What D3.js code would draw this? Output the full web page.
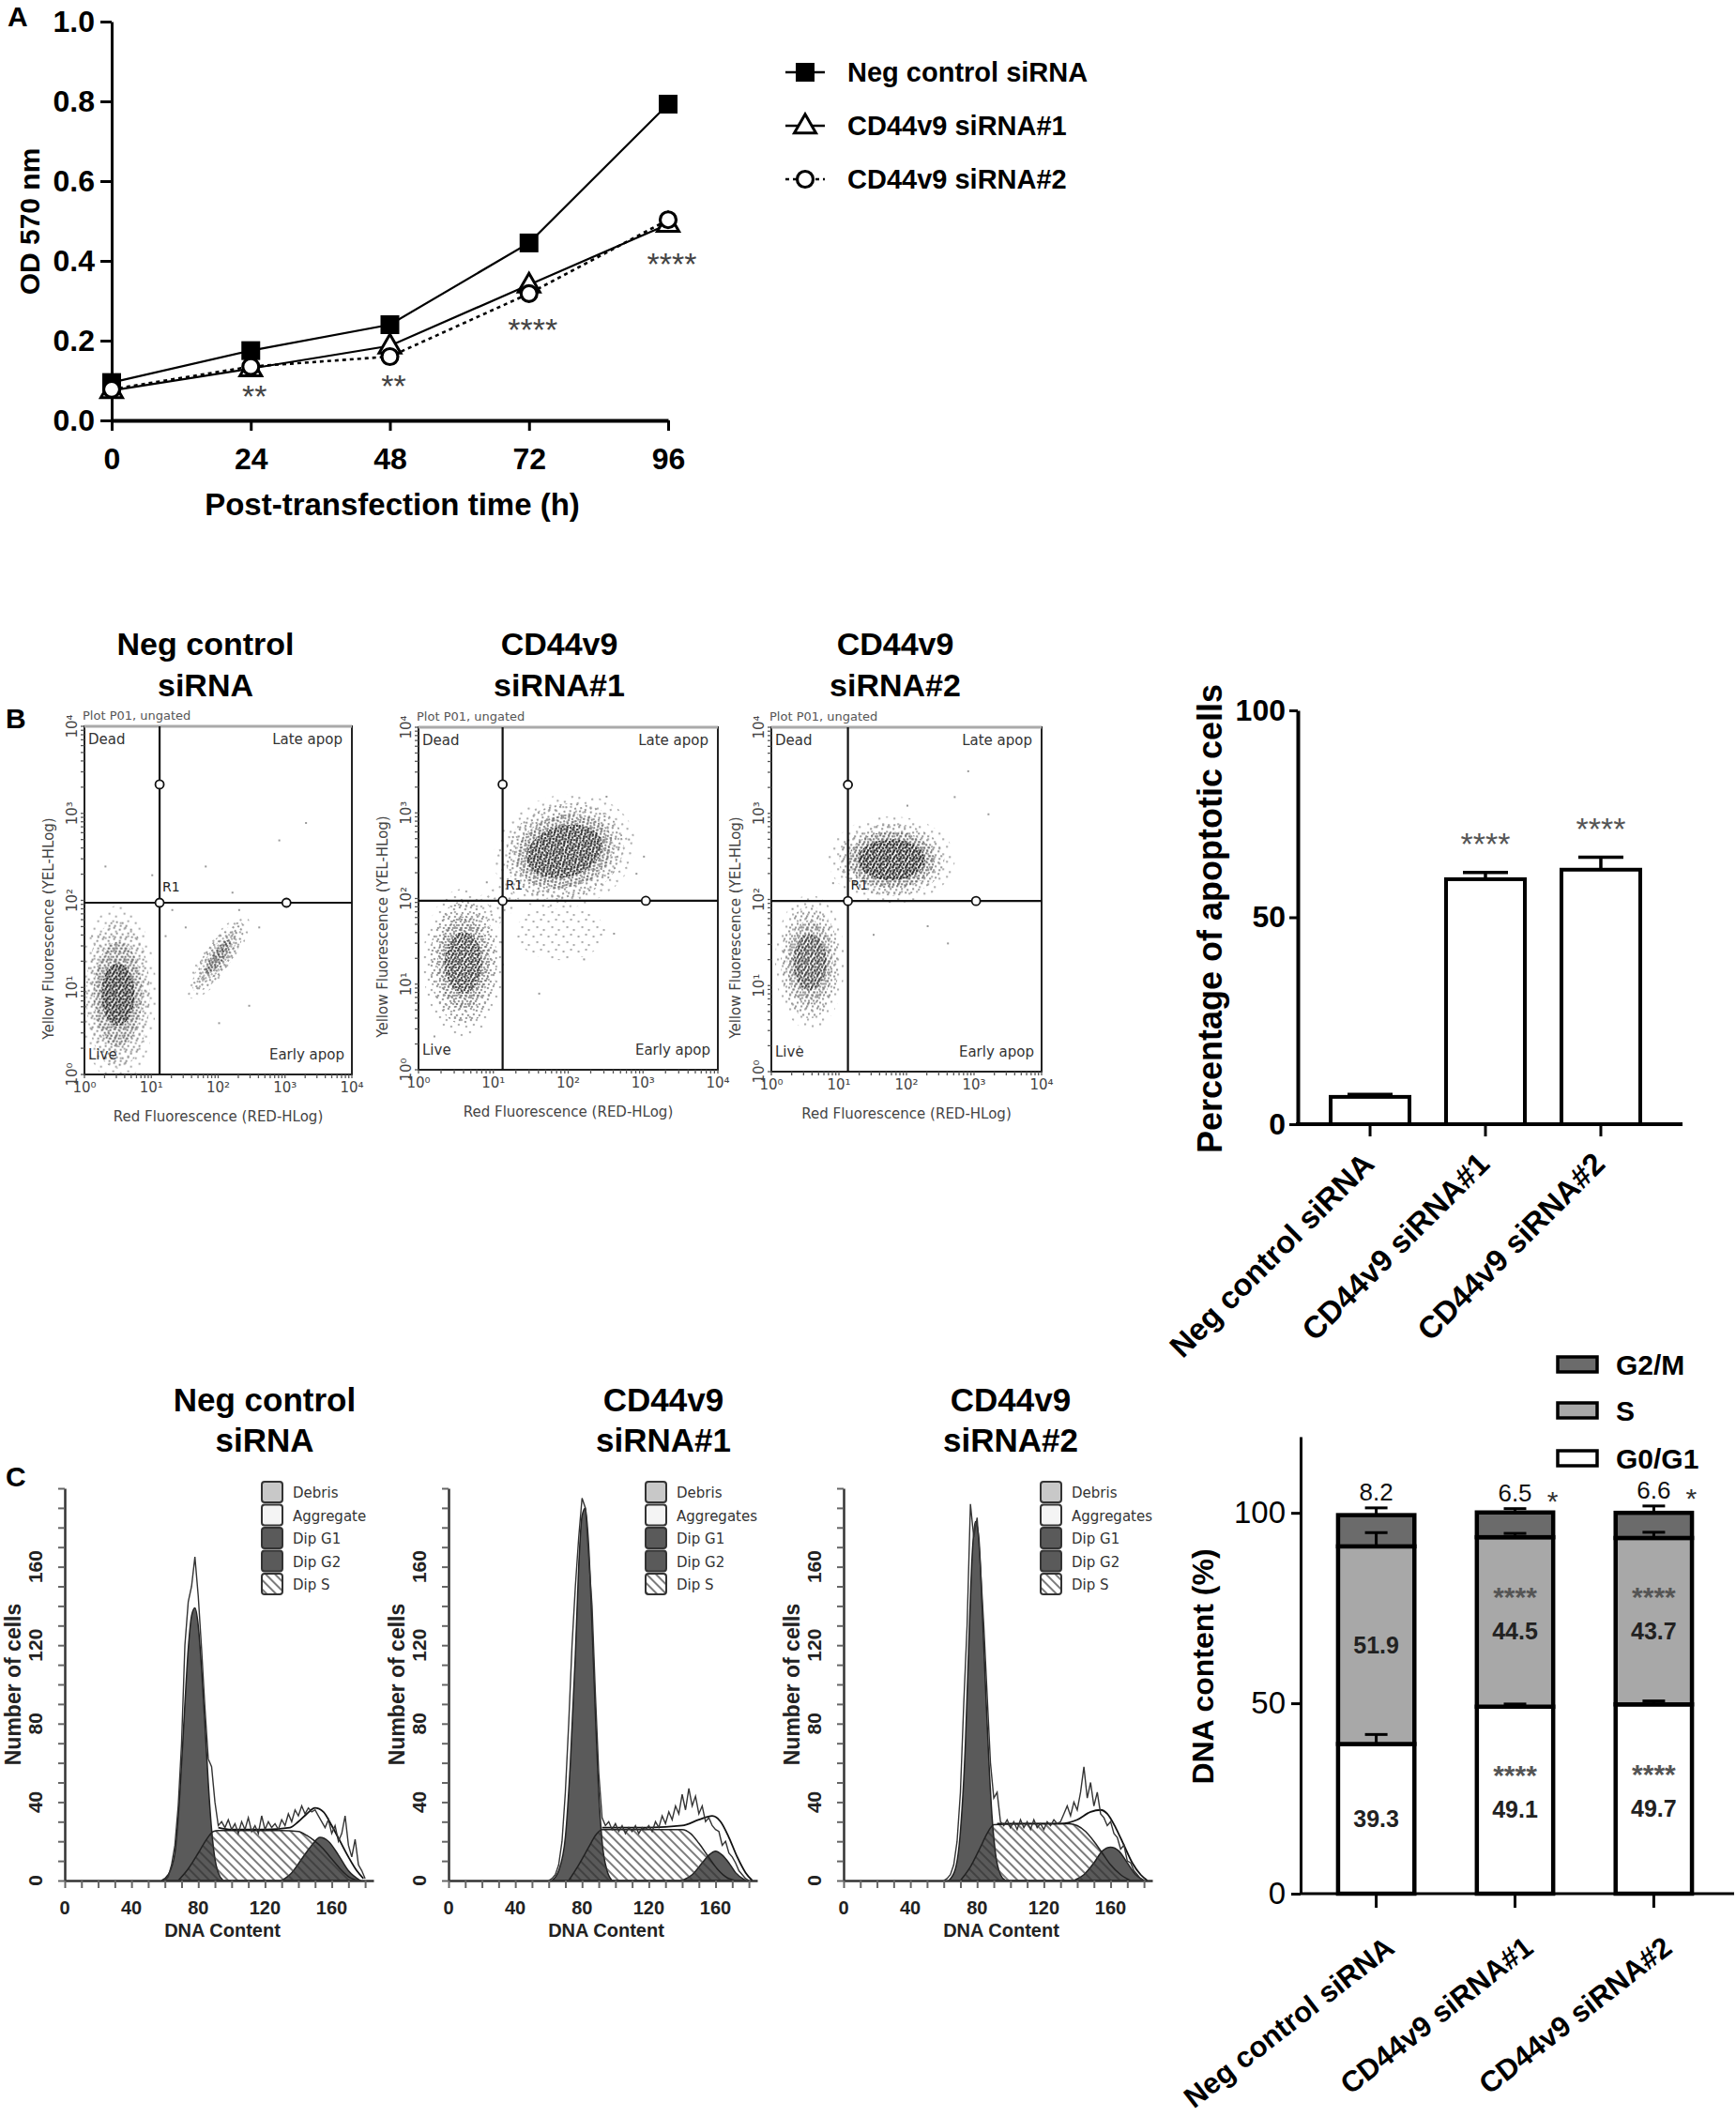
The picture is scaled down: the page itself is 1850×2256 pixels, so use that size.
<!DOCTYPE html>
<html>
<head>
<meta charset="utf-8">
<script src="https://cdn.jsdelivr.net/npm/d3@7"></script>
<style>
  body { margin: 0; background: #fff; }
</style>
</head>
<body>
<svg id="fig" width="1850" height="2256"></svg>
<script>
// ---------- data ----------
const groups = ['Neg control siRNA', 'CD44v9 siRNA#1', 'CD44v9 siRNA#2'];

// A: OD 570 growth curves
const hours = [0, 24, 48, 72, 96];
const odNeg = [0.095, 0.175, 0.24, 0.445, 0.793];
const odSi1 = [0.075, 0.13, 0.187, 0.34, 0.492];
const odSi2 = [0.078, 0.135, 0.16, 0.318, 0.503];
const odStars = ['', '**', '**', '****', '****'];
const odStarAt = [0, 0.073, 0.1, 0.24, 0.405];
const odTicks = [0, 0.2, 0.4, 0.6, 0.8, 1.0];

// B: annexin / PI flow plots (log10 units)
const flowTitles = [['Neg control', 'siRNA'], ['CD44v9', 'siRNA#1'], ['CD44v9', 'siRNA#2']];
const flowGate = [[13.3, 94], [13.3, 94], [13.6, 96]];
const flowHandles = [[[13.3, 2150], [1050, 94]], [[13.3, 2150], [1090, 94]], [[13.6, 2150], [1070, 96]]];
// cloud: [log red, log yellow, outer spread red, outer spread yellow, core spread red, core spread yellow, tilt, core darkness]
const flowClouds = [
  [[0.5, 0.92, 0.48, 0.85, 0.25, 0.36, 0, 1.0], [2.0, 1.35, 0.62, 0.15, 0.3, 0.07, -55, 0.6]],
  [[1.95, 2.55, 0.8, 0.55, 0.52, 0.3, -15, 0.9], [0.6, 1.25, 0.45, 0.72, 0.25, 0.36, 0, 0.8],
   [1.9, 1.6, 0.6, 0.32, 0, 0, 0, 0], [1.0, 1.9, 0.35, 0.2, 0, 0, -40, 0]],
  [[1.78, 2.46, 0.78, 0.42, 0.5, 0.24, 0, 1.0], [0.57, 1.27, 0.43, 0.65, 0.25, 0.33, 0, 0.75]]
];
const flowDots = [
  [[1.3, 1.9], [1.5, 1.7], [1.2, 1.6], [2.3, 1.9], [2.6, 1.7], [2.2, 2.1], [1.8, 2.4], [2.9, 2.7], [3.3, 2.9], [1.0, 2.3], [2.45, 0.8], [2.0, 0.6], [1.7, 1.0], [0.3, 2.4], [0.1, 1.6]],
  [[2.8, 2.7], [2.9, 2.3], [2.5, 3.2], [1.1, 1.5], [1.6, 0.9], [2.2, 1.3], [2.6, 1.6], [0.2, 0.4], [0.9, 2.2], [3.0, 2.5], [1.4, 2.9]],
  [[2.9, 3.5], [2.7, 3.2], [3.2, 3.0], [2.6, 1.5], [2.3, 1.7], [1.5, 1.6], [0.4, 0.3], [0.9, 2.2], [2.0, 3.1], [1.1, 2.0], [0.3, 1.9]]
];
const flowDecades = [1, 10, 100, 1000, 10000];
const flowDecadeLabels = ['10⁰', '10¹', '10²', '10³', '10⁴'];
const quadrantNames = ['Dead', 'Late apop', 'Live', 'Early apop'];

// B: percentage of apoptotic cells
const apoptotic = [6.6, 59.2, 61.5];
const apoptoticErr = [0.6, 1.6, 3.0];
const apoptoticStars = ['', '****', '****'];
const apoptoticTicks = [0, 50, 100];

// C: DNA content histograms (bins of 2)
const histBins = d3.range(60, 181, 2);
const histTotal = [
  [0, 2, 8, 18, 38, 70, 120, 142, 150, 165, 145, 118, 88, 62, 58, 40, 28, 30, 27, 31, 26, 29, 24, 30, 26, 32, 25, 28, 24, 33, 26, 30, 27, 29, 26, 31, 28, 34, 30, 36, 33, 38, 34, 37, 35, 36, 33, 30, 27, 31, 24, 28, 20, 24, 33, 18, 12, 21, 8, 5, 1],
  [0, 1, 3, 8, 20, 45, 80, 120, 150, 175, 195, 190, 165, 140, 95, 55, 32, 28, 30, 26, 29, 25, 28, 24, 27, 25, 28, 24, 27, 26, 28, 25, 30, 27, 33, 29, 35, 31, 38, 34, 44, 36, 47, 38, 43, 34, 38, 30, 32, 28, 26, 25, 18, 20, 14, 12, 9, 5, 3, 1, 0],
  [0, 1, 3, 8, 20, 45, 90, 130, 192, 175, 185, 160, 130, 95, 60, 42, 45, 30, 28, 31, 27, 30, 26, 31, 27, 30, 26, 31, 27, 29, 26, 30, 28, 31, 29, 30, 34, 38, 33, 40, 36, 45, 58, 42, 50, 38, 45, 34, 32, 28, 30, 24, 22, 16, 18, 10, 9, 5, 3, 1, 0]
];
const histG1 = [
  [[58, 0], [62, 3], [66, 14], [69, 45], [72, 90], [74, 118], [76, 135], [78, 139], [80, 130], [82, 108], [84, 80], [86, 50], [88, 26], [90, 11], [92, 4], [95, 0]],
  [[62, 0], [66, 5], [70, 22], [73, 60], [76, 115], [78, 160], [80, 186], [82, 190], [84, 170], [86, 130], [88, 85], [90, 45], [92, 20], [95, 5], [98, 0]],
  [[63, 0], [67, 6], [70, 25], [73, 70], [75, 120], [77, 165], [79, 183], [81, 175], [83, 140], [85, 100], [87, 62], [89, 32], [91, 14], [94, 3], [97, 0]]
];
const histS = [
  [[68, 0], [74, 6], [80, 14], [85, 21], [89, 25], [92, 25.5], [110, 25.5], [130, 25.5], [140, 25], [145, 23], [150, 20], [155, 16], [160, 11], [165, 6], [170, 2], [176, 0]],
  [[72, 0], [78, 8], [84, 17], [88, 23], [92, 26], [110, 26], [130, 26], [140, 26], [145, 24], [150, 19], [155, 13], [160, 7], [166, 2], [172, 0]],
  [[70, 0], [76, 7], [82, 17], [86, 24], [90, 28.5], [110, 29], [135, 29], [140, 28], [145, 25], [150, 20], [155, 14], [160, 8], [166, 3], [172, 0]]
];
const histG2 = [
  [[130, 0], [136, 4], [142, 11], [148, 18], [153, 22], [158, 20], [164, 13], [170, 5], [177, 0]],
  [[140, 0], [146, 3], [152, 9], [156, 13], [160, 15], [164, 13], [168, 9], [172, 4], [178, 0]],
  [[138, 0], [144, 3], [150, 9], [155, 15], [160, 17], [165, 15], [170, 9], [175, 3], [180, 0]]
];
const histFit = [
  [[92, 27], [100, 26], [120, 26], [135, 27], [140, 30], [145, 34], [150, 37], [155, 35], [160, 28], [165, 20], [170, 12], [175, 5], [179, 1]],
  [[92, 27], [120, 27], [140, 28], [150, 31], [158, 33], [163, 30], [168, 22], [173, 12], [178, 4], [182, 0]],
  [[92, 29], [130, 29], [140, 31], [148, 35], [154, 36], [158, 34], [163, 27], [168, 18], [173, 9], [178, 3], [182, 0]]
];
const histLegend = [
  ['Debris', 'Aggregate', 'Dip G1', 'Dip G2', 'Dip S'],
  ['Debris', 'Aggregates', 'Dip G1', 'Dip G2', 'Dip S'],
  ['Debris', 'Aggregates', 'Dip G1', 'Dip G2', 'Dip S']
];
const histTicks = [0, 40, 80, 120, 160];

// C: cell cycle distribution (%)
const phaseG1 = [39.3, 49.1, 49.7];
const phaseS = [51.9, 44.5, 43.7];
const phaseG2M = [8.2, 6.5, 6.6];
const errG1 = [2.5, 0.7, 0.9];
const errS = [3.6, 1.0, 1.5];
const errG2M = [1.9, 1.0, 1.8];
const starsG1 = ['', '****', '****'];
const starsS = ['', '****', '****'];
const starsG2M = ['', '*', '*'];
const phaseNames = ['G2/M', 'S', 'G0/G1'];
const phaseTicks = [0, 50, 100];

// ---------- setup ----------
const FONT = '"Liberation Sans", Arial, sans-serif';
const SMALL = '"DejaVu Sans", Verdana, sans-serif';
const svg = d3.select('#fig').attr('font-family', FONT);
svg.append('rect').attr('width', 1850).attr('height', 2256).attr('fill', '#fff');
const defs = svg.append('defs');

// hatch for S phase
const hatch = defs.append('pattern').attr('id', 'hatch')
  .attr('patternUnits', 'userSpaceOnUse').attr('width', 7).attr('height', 7)
  .attr('patternTransform', 'rotate(-45)');
hatch.append('line').attr('x1', 1).attr('y1', 0).attr('x2', 1).attr('y2', 7)
  .attr('stroke', '#333').attr('stroke-width', 1.3);

// stipple textures for flow clouds
const stipples = [
  { id: 'st0', size: 16, fill: '#adadad', dots: [[2, 3], [10, 1], [6, 9], [13, 12]] },
  { id: 'st1', size: 12, fill: '#999', dots: [[1, 2], [7, 0], [10, 6], [4, 7], [8, 10], [2, 10]] },
  { id: 'st2', size: 9, fill: '#666', dots: [[0, 1], [5, 0], [7, 4], [3, 4], [1, 7], [6, 7]] },
  { id: 'st3', size: 7, fill: '#2a2a2a', dots: [[0, 0], [4, 1], [2, 3], [5, 4], [1, 5]] }
];
stipples.forEach((s) => {
  const p = defs.append('pattern').attr('id', s.id)
    .attr('patternUnits', 'userSpaceOnUse').attr('width', s.size).attr('height', s.size);
  p.selectAll('rect').data(s.dots).join('rect')
    .attr('x', (d) => d[0]).attr('y', (d) => d[1])
    .attr('width', 2.1).attr('height', 2.1).attr('fill', s.fill);
});

const panelLetter = (t, x, y) => svg.append('text').attr('x', x).attr('y', y)
  .attr('font-size', 30).attr('font-weight', 'bold').text(t);

// ---------- A: growth curves ----------
const ax = d3.scaleLinear().domain([0, 96]).range([119, 712]);
const ay = d3.scaleLinear().domain([0, 1]).range([448, 23]);
const gA = svg.append('g');

gA.append('g').attr('transform', 'translate(119,0)')
  .call(d3.axisLeft(ay).tickValues(odTicks).tickFormat(d3.format('.1f')).tickSize(12).tickSizeOuter(0).tickPadding(6))
  .call((g) => {
    g.attr('font-family', FONT).attr('font-size', 32).attr('font-weight', 'bold');
    g.select('.domain').attr('stroke-width', 3);
    g.selectAll('line').attr('stroke-width', 3);
  });
gA.append('g').attr('transform', 'translate(0,448)')
  .call(d3.axisBottom(ax).tickValues(hours).tickSize(11).tickSizeOuter(0).tickPadding(18))
  .call((g) => {
    g.attr('font-family', FONT).attr('font-size', 32).attr('font-weight', 'bold');
    g.select('.domain').attr('stroke-width', 4);
    g.selectAll('line').attr('stroke-width', 3);
  });
gA.append('text').attr('x', 418).attr('y', 549).attr('text-anchor', 'middle')
  .attr('font-size', 33).attr('font-weight', 'bold').text('Post-transfection time (h)');
gA.append('text').attr('transform', 'translate(42,236) rotate(-90)').attr('text-anchor', 'middle')
  .attr('font-size', 30).attr('font-weight', 'bold').text('OD 570 nm');
panelLetter('A', 8, 28);

const odSeries = [
  { name: groups[0], values: odNeg, marker: 'square', dash: null },
  { name: groups[1], values: odSi1, marker: 'triangle', dash: null },
  { name: groups[2], values: odSi2, marker: 'circle', dash: '4,4' }
];
const odLine = d3.line().x((d, i) => ax(hours[i])).y((d) => ay(d));

function drawMarker(g, type, x, y) {
  if (type === 'square') {
    g.append('rect').attr('x', x - 10).attr('y', y - 10).attr('width', 20).attr('height', 20).attr('fill', '#000');
  } else if (type === 'triangle') {
    g.append('path').attr('d', d3.symbol(d3.symbolTriangle, 230)()).attr('transform', `translate(${x},${y + 1})`)
      .attr('fill', '#fff').attr('stroke', '#000').attr('stroke-width', 3);
  } else {
    g.append('circle').attr('cx', x).attr('cy', y).attr('r', 8.5)
      .attr('fill', '#fff').attr('stroke', '#000').attr('stroke-width', 3.2);
  }
}

odSeries.forEach((s) => {
  gA.append('path').datum(s.values).attr('d', odLine).attr('fill', 'none')
    .attr('stroke', '#000').attr('stroke-width', s.dash ? 2.6 : 2.2)
    .attr('stroke-dasharray', s.dash);
});
odSeries.forEach((s) => {
  s.values.forEach((v, i) => drawMarker(gA, s.marker, ax(hours[i]), ay(v)));
});
gA.selectAll('.star').data(odStars).join('text')
  .attr('x', (d, i) => ax(hours[i]) + 4).attr('y', (d, i) => ay(odStarAt[i]) + 17)
  .attr('text-anchor', 'middle').attr('font-size', 34).attr('fill', '#444').text((d) => d);

// legend
const legA = gA.append('g');
odSeries.forEach((s, i) => {
  const y = 77 + i * 57;
  legA.append('line').attr('x1', 837).attr('x2', 879).attr('y1', y).attr('y2', y)
    .attr('stroke', '#000').attr('stroke-width', 2.6).attr('stroke-dasharray', s.dash);
  drawMarker(legA, s.marker, 858, y);
  legA.append('text').attr('x', 903).attr('y', y + 10).attr('font-size', 29)
    .attr('font-weight', 'bold').text(s.name);
});

// ---------- B: flow plots ----------
const flowBox = [
  { x0: 90, x1: 375, y0: 774, y1: 1145 },
  { x0: 446, x1: 765, y0: 775, y1: 1140 },
  { x0: 822, x1: 1110, y0: 775, y1: 1142 }
];
const flowTitleX = [219, 596, 954];
panelLetter('B', 6, 776);

flowBox.forEach((f, k) => {
  const fx = d3.scaleLog().domain([1, 1e4]).range([f.x0, f.x1]);
  const fy = d3.scaleLog().domain([1, 1e4]).range([f.y1, f.y0]);
  const g = svg.append('g').attr('font-family', SMALL);
  const decX = (f.x1 - f.x0) / 4;
  const decY = (f.y1 - f.y0) / 4;

  // title
  flowTitles[k].forEach((t, j) => {
    g.append('text').attr('x', flowTitleX[k]).attr('y', 698 + j * 44).attr('text-anchor', 'middle')
      .attr('font-family', FONT).attr('font-size', 34).attr('font-weight', 'bold').text(t);
  });

  // clouds: halo, outer, middle and dense core
  const clipId = `flowclip${k}`;
  defs.append('clipPath').attr('id', clipId).append('rect')
    .attr('x', f.x0).attr('y', f.y0).attr('width', f.x1 - f.x0).attr('height', f.y1 - f.y0);
  const cg = g.append('g').attr('clip-path', `url(#${clipId})`);
  flowClouds[k].forEach((c) => {
    const cgc = cg.append('g')
      .attr('transform', `translate(${fx(10 ** c[0])},${fy(10 ** c[1])}) rotate(${c[6]})`);
    const dense = c[7] > 0;
    const layers = [
      [c[2] * (dense ? 1.2 : 1), c[3] * (dense ? 1.2 : 1), 'st0', 1],
      [c[2], c[3], 'st1', dense ? 1 : 0],
      [(c[2] + c[4]) / 2, (c[3] + c[5]) / 2, 'st2', c[7] * 0.85],
      [c[4], c[5], 'st3', c[7]]
    ];
    layers.filter((l) => l[3] > 0 && l[0] > 0).forEach(([rx, ry, pat, op]) => {
      cgc.append('ellipse').attr('rx', rx * decX).attr('ry', ry * decY)
        .attr('fill', `url(#${pat})`).attr('opacity', op);
    });
  });
  cg.selectAll('.dot').data(flowDots[k]).join('rect')
    .attr('x', (d) => fx(10 ** d[0])).attr('y', (d) => fy(10 ** d[1]))
    .attr('width', 2).attr('height', 2).attr('fill', '#999');

  // frame
  g.append('rect').attr('x', f.x0).attr('y', f.y0).attr('width', f.x1 - f.x0).attr('height', f.y1 - f.y0)
    .attr('fill', 'none').attr('stroke', '#222').attr('stroke-width', 2);
  g.append('line').attr('x1', f.x0).attr('x2', f.x1).attr('y1', f.y0).attr('y2', f.y0)
    .attr('stroke', '#aaa').attr('stroke-width', 3);

  // minor log ticks
  g.selectAll('.mx').data(fx.ticks()).join('line')
    .attr('x1', (d) => fx(d)).attr('x2', (d) => fx(d)).attr('y1', f.y1).attr('y2', f.y1 + 4)
    .attr('stroke', '#555').attr('stroke-width', 1.3);
  g.selectAll('.my').data(fy.ticks()).join('line')
    .attr('y1', (d) => fy(d)).attr('y2', (d) => fy(d)).attr('x1', f.x0).attr('x2', f.x0 - 4)
    .attr('stroke', '#555').attr('stroke-width', 1.3);

  // decade labels
  g.selectAll('.xl').data(flowDecades).join('text')
    .attr('x', (d) => fx(d)).attr('y', f.y1 + 19).attr('text-anchor', 'middle')
    .attr('font-size', 15).attr('fill', '#444').text((d, i) => flowDecadeLabels[i]);
  g.selectAll('.yl').data(flowDecades).join('text')
    .attr('transform', (d) => `translate(${f.x0 - 8},${fy(d)}) rotate(-90)`)
    .attr('text-anchor', 'middle').attr('font-size', 15).attr('fill', '#444')
    .text((d, i) => flowDecadeLabels[i]);
  g.append('text').attr('x', (f.x0 + f.x1) / 2).attr('y', f.y1 + 50).attr('text-anchor', 'middle')
    .attr('font-size', 15).attr('fill', '#444').text('Red Fluorescence (RED-HLog)');
  g.append('text').attr('transform', `translate(${f.x0 - 33},${(f.y0 + f.y1) / 2 + 30}) rotate(-90)`)
    .attr('text-anchor', 'middle').attr('font-size', 15).attr('fill', '#444')
    .text('Yellow Fluorescence (YEL-HLog)');
  g.append('text').attr('x', f.x0 - 2).attr('y', f.y0 - 7).attr('font-size', 13).attr('fill', '#555')
    .text('Plot P01, ungated');

  // quadrant gate
  const gx = fx(flowGate[k][0]);
  const gy = fy(flowGate[k][1]);
  g.append('line').attr('x1', gx).attr('x2', gx).attr('y1', f.y0).attr('y2', f.y1)
    .attr('stroke', '#111').attr('stroke-width', 2.2);
  g.append('line').attr('x1', f.x0).attr('x2', f.x1).attr('y1', gy).attr('y2', gy)
    .attr('stroke', '#111').attr('stroke-width', 2.2);
  g.selectAll('.hd').data([[flowGate[k][0], flowGate[k][1]], ...flowHandles[k]]).join('circle')
    .attr('cx', (d) => fx(d[0])).attr('cy', (d) => fy(d[1])).attr('r', 4.5)
    .attr('fill', '#fff').attr('stroke', '#111').attr('stroke-width', 1.8);
  g.append('text').attr('x', gx + 3).attr('y', gy - 12).attr('font-size', 14).attr('fill', '#222').text('R1');

  // quadrant names
  const qpos = [
    [f.x0 + 4, f.y0 + 19, 'start'], [f.x1 - 10, f.y0 + 19, 'end'],
    [f.x0 + 4, f.y1 - 16, 'start'], [f.x1 - 8, f.y1 - 16, 'end']
  ];
  quadrantNames.forEach((q, j) => {
    g.append('text').attr('x', qpos[j][0]).attr('y', qpos[j][1]).attr('text-anchor', qpos[j][2])
      .attr('font-size', 15).attr('fill', '#333').text(q);
  });
});

// ---------- B: apoptotic bar chart ----------
const bx = d3.scaleBand().domain(groups).range([1383, 1783]).paddingInner(0.317).paddingOuter(0.285);
const by = d3.scaleLinear().domain([0, 100]).range([1198, 757]);
const gB = svg.append('g');
gB.append('g').attr('transform', 'translate(1383,0)')
  .call(d3.axisLeft(by).tickValues(apoptoticTicks).tickSize(9).tickSizeOuter(0).tickPadding(4))
  .call((g) => {
    g.attr('font-family', FONT).attr('font-size', 32).attr('font-weight', 'bold');
    g.select('.domain').attr('stroke-width', 4);
    g.selectAll('line').attr('stroke-width', 3);
  });
gB.append('line').attr('x1', 1381).attr('x2', 1793).attr('y1', 1198).attr('y2', 1198)
  .attr('stroke', '#000').attr('stroke-width', 4);
gB.selectAll('.bar').data(apoptotic).join('rect')
  .attr('x', (d, i) => bx(groups[i])).attr('y', (d) => by(d))
  .attr('width', bx.bandwidth()).attr('height', (d) => by(0) - by(d))
  .attr('fill', '#fff').attr('stroke', '#000').attr('stroke-width', 4);
apoptotic.forEach((v, i) => {
  const c = bx(groups[i]) + bx.bandwidth() / 2;
  gB.append('line').attr('x1', c).attr('x2', c).attr('y1', by(v)).attr('y2', by(v + apoptoticErr[i]))
    .attr('stroke', '#000').attr('stroke-width', 3.5);
  gB.append('line').attr('x1', c - 24).attr('x2', c + 24).attr('y1', by(v + apoptoticErr[i])).attr('y2', by(v + apoptoticErr[i]))
    .attr('stroke', '#000').attr('stroke-width', 3.5);
  gB.append('line').attr('x1', c).attr('x2', c).attr('y1', 1198).attr('y2', 1211)
    .attr('stroke', '#000').attr('stroke-width', 3);
  gB.append('text').attr('x', c).attr('y', by(v + apoptoticErr[i]) - 19).attr('text-anchor', 'middle')
    .attr('font-size', 34).attr('fill', '#555').text(apoptoticStars[i]);
  gB.append('text').attr('transform', `translate(${c - 10},${1226}) rotate(-45)`)
    .attr('text-anchor', 'end').attr('dy', '0.7em').attr('font-size', 33).attr('font-weight', 'bold')
    .text(groups[i]);
});
gB.append('text').attr('transform', 'translate(1302,979) rotate(-90)').attr('text-anchor', 'middle')
  .attr('font-size', 36).attr('font-weight', 'bold').text('Percentage of apoptotic cells');

// ---------- C: DNA histograms ----------
const histOrigin = [69, 478, 899];
const histTitleX = [282, 707, 1077];
panelLetter('C', 6, 1584);

histOrigin.forEach((x0, k) => {
  const base = 2004;
  const hx = d3.scaleLinear().domain([0, 185]).range([x0, x0 + 329]);
  const hy = d3.scaleLinear().domain([0, 200]).range([base, base - 418]);
  const g = svg.append('g');
  const area = d3.area().x((d) => hx(d[0])).y0(base).y1((d) => hy(d[1])).curve(d3.curveMonotoneX);
  const fitLine = d3.line().x((d) => hx(d[0])).y((d) => hy(d[1])).curve(d3.curveMonotoneX);
  const rawLine = d3.line().x((d, i) => hx(histBins[i])).y((d) => hy(d));

  flowTitles[k].forEach((t, j) => {
    g.append('text').attr('x', histTitleX[k]).attr('y', 1504 + j * 43).attr('text-anchor', 'middle')
      .attr('font-size', 35).attr('font-weight', 'bold').text(t);
  });

  g.append('path').datum(histS[k]).attr('d', area).attr('fill', '#fff');
  g.append('path').datum(histG1[k]).attr('d', area).attr('fill', '#5a5a5a')
    .attr('stroke', '#222').attr('stroke-width', 1.5);
  g.append('path').datum(histG2[k]).attr('d', area).attr('fill', '#5a5a5a')
    .attr('stroke', '#222').attr('stroke-width', 1.5);
  g.append('path').datum(histS[k]).attr('d', area).attr('fill', 'url(#hatch)')
    .attr('stroke', '#222').attr('stroke-width', 1.5);
  g.append('path').datum(histFit[k]).attr('d', fitLine).attr('fill', 'none')
    .attr('stroke', '#111').attr('stroke-width', 1.8);
  g.append('path').datum(histTotal[k]).attr('d', rawLine).attr('fill', 'none')
    .attr('stroke', '#333').attr('stroke-width', 1.4);

  // axes
  g.append('g').attr('transform', `translate(${x0},0)`)
    .call(d3.axisLeft(hy).tickValues(d3.range(0, 201, 10)).tickSize(7).tickSizeOuter(0).tickFormat(''))
    .call((a) => { a.select('.domain').attr('stroke-width', 2.5).attr('stroke', '#333'); a.selectAll('line').attr('stroke', '#666').attr('stroke-width', 2); });
  g.append('g').attr('transform', `translate(0,${base})`)
    .call(d3.axisBottom(hx).tickValues(d3.range(0, 181, 10)).tickSize(8).tickSizeOuter(0).tickFormat(''))
    .call((a) => { a.select('.domain').attr('stroke-width', 2.5).attr('stroke', '#333'); a.selectAll('line').attr('stroke', '#666').attr('stroke-width', 2); });
  g.selectAll('.xt').data(histTicks).join('text')
    .attr('x', (d) => hx(d)).attr('y', base + 36).attr('text-anchor', 'middle')
    .attr('font-size', 20).attr('font-weight', 'bold').attr('fill', '#222').text((d) => d);
  g.selectAll('.yt').data(histTicks).join('text')
    .attr('transform', (d) => `translate(${x0 - 24},${hy(d)}) rotate(-90)`).attr('text-anchor', 'middle')
    .attr('font-size', 21).attr('font-weight', 'bold').attr('fill', '#222').text((d) => d);
  g.append('text').attr('x', x0 + 168).attr('y', base + 60).attr('text-anchor', 'middle')
    .attr('font-size', 20).attr('font-weight', 'bold').attr('fill', '#222').text('DNA Content');
  g.append('text').attr('transform', `translate(${x0 - 47},1795) rotate(-90)`).attr('text-anchor', 'middle')
    .attr('font-size', 23).attr('font-weight', 'bold').attr('fill', '#222').text('Number of cells');

  // legend
  const fills = ['#c8c8c8', '#f4f4f4', '#5a5a5a', '#5a5a5a', 'url(#hatch)'];
  histLegend[k].forEach((t, j) => {
    const y = 1590 + j * 24.5;
    g.append('rect').attr('x', x0 + 210).attr('y', y - 11).attr('width', 22).attr('height', 22).attr('rx', 3)
      .attr('fill', fills[j]).attr('stroke', '#333').attr('stroke-width', 2);
    g.append('text').attr('x', x0 + 243).attr('y', y + 6).attr('font-family', SMALL)
      .attr('font-size', 15).attr('fill', '#333').text(t);
  });
});

// ---------- C: stacked phase bars ----------
const cx = d3.scaleBand().domain(groups).range([1386, 1843]).paddingInner(0.45).paddingOuter(0.27);
const cy = d3.scaleLinear().domain([0, 120]).range([2018, 1531]);
const gC = svg.append('g');
const phaseRows = groups.map((g, i) => ({ group: g, g1: phaseG1[i], s: phaseS[i], g2m: phaseG2M[i] }));
const stacked = d3.stack().keys(['g1', 's', 'g2m'])(phaseRows);
const phaseFill = { g1: '#fff', s: '#a8a8a8', g2m: '#6b6b6b' };
const phaseErr = { g1: errG1, s: errS, g2m: errG2M };
const phaseStars = { g1: starsG1, s: starsS, g2m: starsG2M };

gC.append('g').attr('transform', 'translate(1386,0)')
  .call(d3.axisLeft(cy).tickValues(phaseTicks).tickSize(10).tickSizeOuter(0).tickPadding(6))
  .call((g) => {
    g.attr('font-family', FONT).attr('font-size', 33);
    g.select('.domain').attr('stroke-width', 3);
    g.selectAll('line').attr('stroke-width', 3);
  });
gC.append('line').attr('x1', 1385).attr('x2', 1848).attr('y1', 2018).attr('y2', 2018)
  .attr('stroke', '#000').attr('stroke-width', 3);

stacked.forEach((layer) => {
  gC.selectAll(`.seg-${layer.key}`).data(layer).join('rect')
    .attr('x', (d) => cx(d.data.group)).attr('y', (d) => cy(d[1]))
    .attr('width', cx.bandwidth()).attr('height', (d) => cy(d[0]) - cy(d[1]))
    .attr('fill', phaseFill[layer.key]).attr('stroke', '#000').attr('stroke-width', 4.5);
});
stacked.forEach((layer) => {
  layer.forEach((d, i) => {
    const c = cx(d.data.group) + cx.bandwidth() / 2;
    const top = cy(d[1] + phaseErr[layer.key][i]);
    gC.append('line').attr('x1', c).attr('x2', c).attr('y1', cy(d[1])).attr('y2', top)
      .attr('stroke', '#000').attr('stroke-width', 3);
    gC.append('line').attr('x1', c - 12).attr('x2', c + 12).attr('y1', top).attr('y2', top)
      .attr('stroke', '#000').attr('stroke-width', 3);
    const star = phaseStars[layer.key][i];
    if (layer.key === 'g2m') {
      gC.append('text').attr('x', c).attr('y', top - 8).attr('text-anchor', 'middle')
        .attr('font-size', 26).attr('fill', '#111').text(d.data.g2m.toFixed(1));
      gC.append('text').attr('x', c + 40).attr('y', top + 2).attr('text-anchor', 'middle')
        .attr('font-size', 30).attr('fill', '#333').text(star);
    } else {
      const mid = cy((d[0] + d[1]) / 2);
      const val = layer.key === 'g1' ? d.data.g1 : d.data.s;
      gC.append('text').attr('x', c).attr('y', mid + (star ? 19 : 9)).attr('text-anchor', 'middle')
        .attr('font-size', 25).attr('font-weight', 'bold').attr('fill', '#222').text(val.toFixed(1));
      gC.append('text').attr('x', c).attr('y', mid - 16).attr('text-anchor', 'middle')
        .attr('font-size', 30).attr('font-weight', 'bold').attr('fill', '#555').text(star);
    }
  });
});
groups.forEach((gname, i) => {
  const c = cx(gname) + cx.bandwidth() / 2;
  gC.append('line').attr('x1', c).attr('x2', c).attr('y1', 2018).attr('y2', 2033)
    .attr('stroke', '#000').attr('stroke-width', 3);
  gC.append('text').attr('transform', `translate(${c + 8},${2062}) rotate(-38)`)
    .attr('text-anchor', 'end').attr('dy', '0.7em').attr('font-size', 31).attr('font-weight', 'bold')
    .text(gname);
});
gC.append('text').attr('transform', 'translate(1293,1776) rotate(-90)').attr('text-anchor', 'middle')
  .attr('font-size', 32).attr('font-weight', 'bold').text('DNA content (%)');

// legend
['g2m', 's', 'g1'].forEach((key, j) => {
  const y = [1454, 1503, 1554][j];
  gC.append('rect').attr('x', 1660).attr('y', y - 8).attr('width', 42).attr('height', 16)
    .attr('fill', phaseFill[key]).attr('stroke', '#000').attr('stroke-width', 3.5);
  gC.append('text').attr('x', 1722).attr('y', y + 11).attr('font-size', 30).attr('font-weight', 'bold')
    .text(phaseNames[j]);
});
</script>
</body>
</html>
